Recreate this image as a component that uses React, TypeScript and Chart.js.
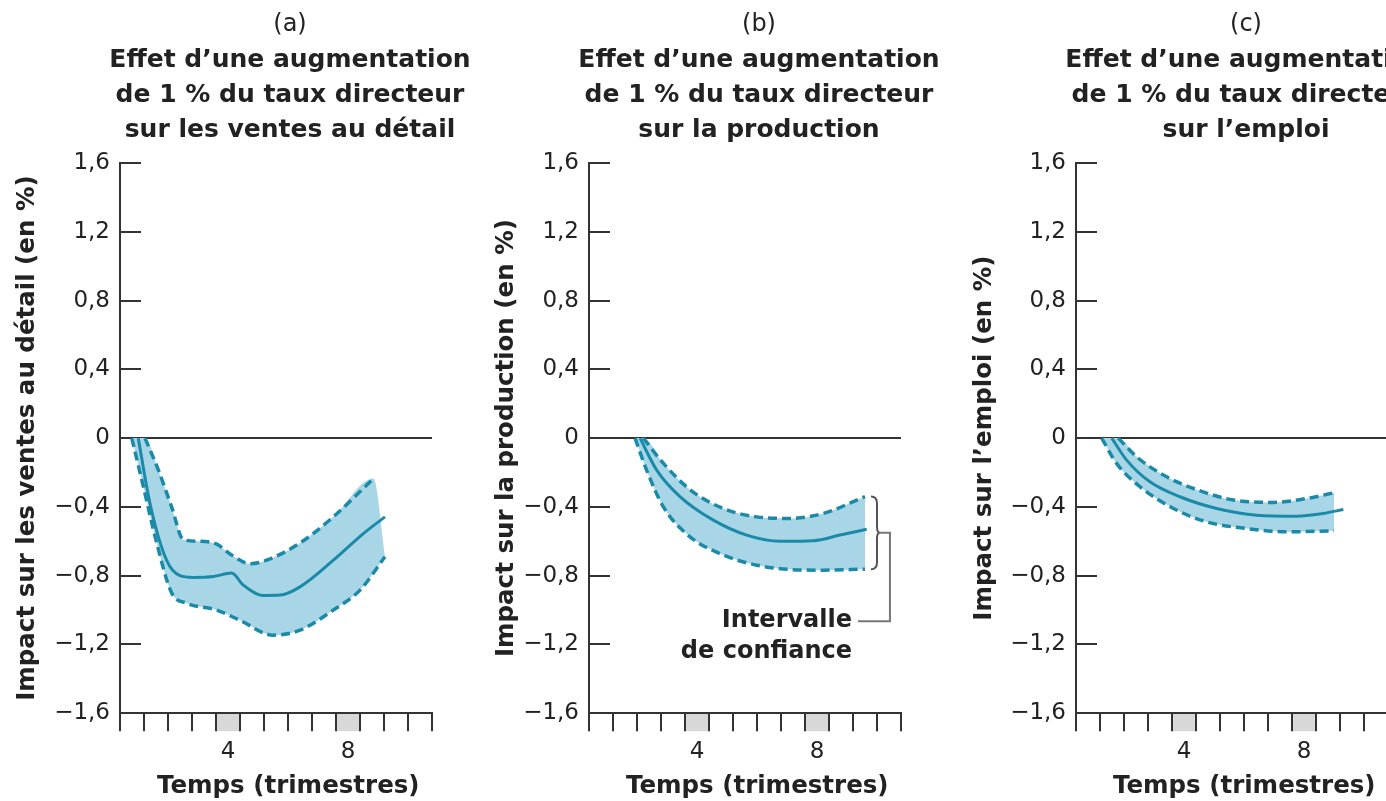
import React, { useEffect, useRef } from "react";
import { Chart, registerables } from "chart.js";

Chart.register(...registerables);

// ---------- data ----------
const xTickLabels = ["", "", "", "", "4", "", "", "", "", "8", "", "", ""];
const shadedIntervals = [4, 9];
const yTickValues = [-1.6, -1.2, -0.8, -0.4, 0, 0.4, 0.8, 1.2, 1.6];
const yTickLabels = ["\u22121,6", "\u22121,2", "\u22120,8", "\u22120,4", "0", "0,4", "0,8", "1,2", "1,6"];

// (a) ventes au détail
const retailMid = [
  { x: 0.76, y: 0 }, { x: 1.25, y: -0.38 }, { x: 1.94, y: -0.71 }, { x: 2.5, y: -0.8 },
  { x: 3.05, y: -0.81 }, { x: 3.89, y: -0.805 }, { x: 4.65, y: -0.785 }, { x: 5.14, y: -0.855 },
  { x: 5.97, y: -0.915 }, { x: 6.67, y: -0.913 }, { x: 7.5, y: -0.865 }, { x: 8.89, y: -0.71 },
  { x: 10.14, y: -0.555 }, { x: 11.04, y: -0.458 },
];
const retailUpper = [
  { x: 1.04, y: 0 }, { x: 1.6, y: -0.186 }, { x: 2.15, y: -0.4 }, { x: 2.64, y: -0.59 },
  { x: 3.33, y: -0.6 }, { x: 4.03, y: -0.617 }, { x: 4.65, y: -0.68 }, { x: 5.42, y: -0.73 },
  { x: 6.11, y: -0.71 }, { x: 7.5, y: -0.61 }, { x: 8.89, y: -0.458 }, { x: 10.56, y: -0.235 },
];
const retailLower = [
  { x: 0.49, y: 0 }, { x: 0.97, y: -0.28 }, { x: 1.53, y: -0.61 }, { x: 2.15, y: -0.9 },
  { x: 2.78, y: -0.96 }, { x: 4.03, y: -1.0 }, { x: 5.0, y: -1.06 }, { x: 6.39, y: -1.146 },
  { x: 7.5, y: -1.117 }, { x: 8.89, y: -1.0 }, { x: 10.0, y: -0.884 }, { x: 11.04, y: -0.69 },
];

// (b) production
const productionMid = [
  { x: 2.125, y: 0 }, { x: 2.82, y: -0.186 }, { x: 3.79, y: -0.34 }, { x: 5.18, y: -0.477 },
  { x: 6.57, y: -0.564 }, { x: 7.96, y: -0.6 }, { x: 9.35, y: -0.597 }, { x: 10.46, y: -0.564 },
  { x: 11.57, y: -0.53 },
];
const productionUpper = [
  { x: 2.26, y: 0 }, { x: 3.1, y: -0.147 }, { x: 4.21, y: -0.3 }, { x: 5.6, y: -0.41 },
  { x: 6.99, y: -0.458 }, { x: 8.375, y: -0.467 }, { x: 9.76, y: -0.438 }, { x: 11.5, y: -0.34 },
];
const productionLower = [
  { x: 1.92, y: 0 }, { x: 2.4, y: -0.186 }, { x: 3.1, y: -0.4 }, { x: 4.21, y: -0.574 },
  { x: 5.6, y: -0.68 }, { x: 6.99, y: -0.739 }, { x: 8.375, y: -0.764 }, { x: 9.76, y: -0.768 },
  { x: 11.5, y: -0.762 },
];

// (c) emploi
const employmentMid = [
  { x: 1.49, y: 0 }, { x: 2.11, y: -0.128 }, { x: 3.08, y: -0.254 }, { x: 4.33, y: -0.341 },
  { x: 5.86, y: -0.409 }, { x: 7.53, y: -0.448 }, { x: 9.2, y: -0.454 }, { x: 10.3, y: -0.438 },
  { x: 11.14, y: -0.415 },
];
const employmentUpper = [
  { x: 1.76, y: 0 }, { x: 2.53, y: -0.109 }, { x: 3.64, y: -0.215 }, { x: 5.03, y: -0.3 },
  { x: 6.56, y: -0.36 }, { x: 8.22, y: -0.374 }, { x: 9.61, y: -0.351 }, { x: 10.75, y: -0.318 },
];
const employmentLower = [
  { x: 1.07, y: 0 }, { x: 1.69, y: -0.147 }, { x: 2.67, y: -0.283 }, { x: 4.06, y: -0.409 },
  { x: 5.44, y: -0.487 }, { x: 7.11, y: -0.526 }, { x: 8.78, y: -0.545 }, { x: 10.75, y: -0.539 },
];

// annotation (panel b), in data units
const noteLines = ["Intervalle", "de confiance"];
const noteTextX = 10.96;
const noteTextY = [-1.06, -1.245];
const braceX = 12.0;
const braceNibX = 12.12;
const connectorX = 12.54;
const connectorY = -1.065;
const connectorEndX = 11.21;

// ---------- styles ----------
const FONT = "'DejaVu Sans', 'Liberation Sans', sans-serif";
const TEXT = "#222222";
const AXIS = "#333333";
const LINE = "#1b8aa8";
const FILL = "#a9d6e6";
const SHADE = "#d8d8d8";
const TICK_LEN = 18;

type Pt = { x: number; y: number };
type Spec = {
  letter: string;
  title: string[];
  yTitle: string;
  yTitlePad: number;
  mid: Pt[];
  upper: Pt[];
  lower: Pt[];
  band: Pt[];
  note?: boolean;
  left: number;
};

const last = (a: Pt[]) => a[a.length - 1];

const panels: Spec[] = [
  {
    letter: "(a)",
    title: ["Effet d\u2019une augmentation", "de 1 % du taux directeur", "sur les ventes au d\u00e9tail"],
    yTitle: "Impact sur les ventes au d\u00e9tail (en %)",
    yTitlePad: 13.3,
    mid: retailMid,
    upper: retailUpper,
    lower: retailLower,
    band: [retailLower[0], ...retailUpper, last(retailLower)],
    left: 0,
  },
  {
    letter: "(b)",
    title: ["Effet d\u2019une augmentation", "de 1 % du taux directeur", "sur la production"],
    yTitle: "Impact sur la production (en %)",
    yTitlePad: 23.3,
    mid: productionMid,
    upper: productionUpper,
    lower: productionLower,
    band: [productionLower[0], ...productionUpper],
    note: true,
    left: 469,
  },
  {
    letter: "(c)",
    title: ["Effet d\u2019une augmentation", "de 1 % du taux directeur", "sur l\u2019emploi"],
    yTitle: "Impact sur l\u2019emploi (en %)",
    yTitlePad: 14.3,
    mid: employmentMid,
    upper: employmentUpper,
    lower: employmentLower,
    band: [employmentLower[0], ...employmentUpper],
    left: 956,
  },
];

function makeConfig(p: Spec): any {
  const decor = {
    id: "panelDecor",
    beforeDraw(chart: any) {
      const { ctx, chartArea, scales } = chart;
      const xs = scales.xl;
      ctx.save();
      ctx.fillStyle = SHADE;
      for (const i of shadedIntervals) {
        const x0 = xs.getPixelForValue(i);
        const x1 = xs.getPixelForValue(i + 1);
        ctx.fillRect(x0, chartArea.bottom, x1 - x0, TICK_LEN);
      }
      ctx.restore();
    },
    afterDatasetsDraw(chart: any) {
      if (!p.note) return;
      const { ctx, scales } = chart;
      const X = (v: number) => scales.xl.getPixelForValue(v);
      const Y = (v: number) => scales.y.getPixelForValue(v);
      const bx = X(braceX);
      const top = Y(last(p.upper).y);
      const bot = Y(last(p.lower).y);
      const mid = (top + bot) / 2;
      const nib = X(braceNibX);
      ctx.save();
      ctx.strokeStyle = "#555555";
      ctx.lineWidth = 2;
      ctx.beginPath();
      ctx.moveTo(bx - 6, top);
      ctx.quadraticCurveTo(bx, top, bx, top + 7);
      ctx.lineTo(bx, mid - 6);
      ctx.quadraticCurveTo(bx, mid, nib, mid);
      ctx.quadraticCurveTo(bx, mid, bx, mid + 6);
      ctx.lineTo(bx, bot - 7);
      ctx.quadraticCurveTo(bx, bot, bx - 6, bot);
      ctx.stroke();
      ctx.strokeStyle = "#777777";
      ctx.beginPath();
      ctx.moveTo(nib, mid);
      ctx.lineTo(X(connectorX), mid);
      ctx.lineTo(X(connectorX), Y(connectorY));
      ctx.lineTo(X(connectorEndX), Y(connectorY));
      ctx.stroke();
      ctx.fillStyle = TEXT;
      ctx.font = `bold 24px ${FONT}`;
      ctx.textAlign = "right";
      ctx.textBaseline = "middle";
      noteLines.forEach((t, i) => ctx.fillText(t, X(noteTextX), Y(noteTextY[i])));
      ctx.restore();
    },
  };

  const lineBase = {
    pointRadius: 0,
    borderColor: LINE,
    cubicInterpolationMode: "monotone",
    xAxisID: "xl",
    yAxisID: "y",
    fill: false,
  };

  return {
    type: "line",
    data: {
      labels: xTickLabels,
      datasets: [
        { ...lineBase, data: p.mid, borderWidth: 3, order: 0 },
        { ...lineBase, data: p.upper, borderWidth: 3.5, borderDash: [9, 5], order: 1 },
        { ...lineBase, data: p.lower, borderWidth: 3.5, borderDash: [9, 5], order: 2 },
        {
          ...lineBase,
          data: p.band,
          borderWidth: 0,
          borderColor: "rgba(0,0,0,0)",
          backgroundColor: FILL,
          fill: 2,
          order: 5,
        },
      ],
    },
    options: {
      responsive: false,
      animation: false,
      events: [],
      layout: { padding: 0 },
      plugins: {
        legend: { display: false },
        tooltip: { enabled: false },
        title: {
          display: true,
          text: p.letter,
          color: TEXT,
          font: { family: FONT, size: 24, weight: "normal" },
          padding: { top: 10.6, bottom: 0 },
        },
        subtitle: {
          display: true,
          text: p.title,
          color: TEXT,
          font: { family: FONT, size: 25, weight: "bold", lineHeight: 1.4 },
          padding: { top: 3.1, bottom: 15.5 },
        },
      },
      scales: {
        x: {
          type: "category",
          labels: xTickLabels,
          position: "bottom",
          offset: true,
          grid: {
            display: true,
            drawOnChartArea: false,
            drawTicks: true,
            tickLength: TICK_LEN,
            offset: true,
            color: AXIS,
            lineWidth: 2,
          },
          border: { display: true, color: AXIS, width: 2 },
          ticks: {
            autoSkip: false,
            maxRotation: 0,
            padding: 7,
            color: TEXT,
            font: { family: FONT, size: 23 },
          },
          title: {
            display: true,
            text: "\u2003Temps (trimestres)",
            color: TEXT,
            font: { family: FONT, size: 24.5, weight: "bold", lineHeight: 1.15 },
            padding: 0,
          },
        },
        xl: { type: "linear", position: "bottom", min: 0, max: 13, display: false },
        y: {
          type: "linear",
          position: "left",
          min: -1.6,
          max: 1.6,
          afterBuildTicks: (s: any) => {
            s.ticks = yTickValues.map((v) => ({ value: v }));
          },
          afterFit: (s: any) => {
            s.width = 120;
          },
          grid: {
            color: (c: any) => (c.tick && Math.abs(c.tick.value) < 1e-9 ? AXIS : "rgba(0,0,0,0)"),
            lineWidth: 2,
            drawTicks: true,
            tickLength: -21,
            tickColor: AXIS,
            tickWidth: 2,
          },
          border: { display: true, color: AXIS, width: 2 },
          ticks: {
            padding: 31,
            color: TEXT,
            font: { family: FONT, size: 23 },
            callback: (_v: any, i: number) => yTickLabels[i],
          },
          title: {
            display: true,
            text: p.yTitle,
            color: TEXT,
            font: { family: FONT, size: 24.5, weight: "bold" },
            padding: { top: p.yTitlePad, bottom: 0 },
          },
        },
        pad: {
          type: "linear",
          position: "right",
          display: true,
          grid: { display: false },
          ticks: { display: false },
          border: { display: false },
          afterFit: (s: any) => {
            s.width = 148;
          },
        },
      },
    },
    plugins: [decor],
  };
}

function Panel({ spec }: { spec: Spec }) {
  const ref = useRef<HTMLCanvasElement>(null);
  useEffect(() => {
    if (!ref.current) return;
    const chart = new Chart(ref.current, makeConfig(spec));
    return () => chart.destroy();
  }, [spec]);
  return (
    <canvas
      ref={ref}
      width={580}
      height={801}
      style={{ position: "absolute", left: spec.left, top: 0, width: 580, height: 801 }}
    />
  );
}

export default function App() {
  return (
    <div
      style={{
        position: "fixed",
        left: 0,
        top: 0,
        width: 1386,
        height: 801,
        overflow: "hidden",
        background: "#ffffff",
      }}
    >
      {panels.map((p) => (
        <Panel key={p.letter} spec={p} />
      ))}
    </div>
  );
}
